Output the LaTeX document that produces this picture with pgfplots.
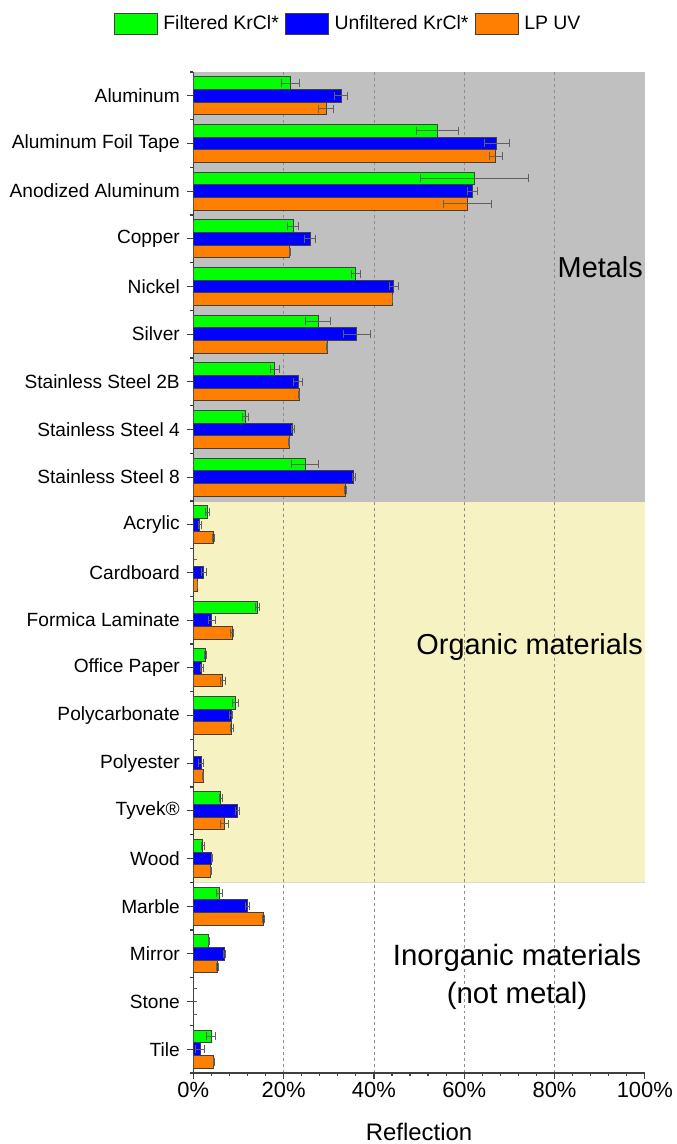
\documentclass[border=0pt]{standalone}
\usepackage{fontspec}
\setmainfont{Liberation Sans}
\usepackage{pgfplots}
\usepackage{pgfplotstable}
\pgfplotsset{compat=1.18}
\usetikzlibrary{calc}
\definecolor{cgreen}{HTML}{00FF00}
\definecolor{cblue}{HTML}{0000FF}
\definecolor{corange}{HTML}{FF8000}
\definecolor{cgray}{HTML}{C0C0C0}
\definecolor{cyellow}{HTML}{F6F2C2}
\definecolor{edge}{HTML}{404040}
\definecolor{errc}{HTML}{606060}

\pgfplotstableread{
y G Ge B Be O Oe
0 21.5 2.0 32.7 1.4 29.4 1.6
1 54.1 4.6 67.2 2.8 67.0 1.5
2 62.2 12.0 61.8 1.1 60.8 5.3
3 22.1 1.2 25.9 1.2 21.3 0.1
4 36.0 1.0 44.4 1.0 44.1 0.1
5 27.6 2.8 36.2 3.0 29.6 0.2
6 18.0 1.0 23.2 1.0 23.4 0.1
7 11.5 0.6 22.0 0.3 21.2 0.1
8 24.8 3.0 35.5 0.3 33.7 0.2
9 3.1 0.4 1.4 0.3 4.4 0.2
10 0 0 2.3 0.5 0.9 0.1
11 14.2 0.5 4.1 0.8 8.6 0.3
12 2.7 0.3 1.9 0.4 6.5 0.55
13 9.3 0.6 8.4 0.3 8.5 0.3
14 0 0 1.7 0.6 2.2 0.1
15 6.1 0.3 9.8 0.4 6.9 0.9
16 2.1 0.3 4.1 0.1 3.8 0.1
17 5.8 0.65 12.0 0.4 15.5 0.2
18 3.4 0.1 6.9 0.3 5.3 0.2
19 0 0 0 0 0 0
20 3.9 1.0 1.5 1.0 4.5 0.1
}\data

\begin{document}
\begin{tikzpicture}
\begin{axis}[
  name=ax, set layers,
  scale only axis, width=451.5bp, height=1001bp,
  xbar, bar width=12.7bp,
  xmin=0, xmax=100, ymin=-0.5, ymax=20.5, y dir=reverse,
  axis lines*=left,
  axis line style={line width=1.3bp, draw=edge, -},
  xtick={0,20,...,100},
  xticklabels={0\%,20\%,40\%,60\%,80\%,100\%},
  minor x tick num=4,
  extra x ticks={20,40,60,80},
  extra x tick labels={},
  extra x tick style={grid=major, major tick length=0pt},
  major grid style={dashed, line width=0.6bp, draw=black!45},
  ytick={0,...,20},
  yticklabels={Aluminum, Aluminum Foil Tape, Anodized Aluminum, Copper, Nickel, Silver, Stainless Steel 2B, Stainless Steel 4, Stainless Steel 8, Acrylic, Cardboard, Formica Laminate, Office Paper, Polycarbonate, Polyester, Tyvek®, Wood, Marble, Mirror, Stone, Tile},
  minor ytick={-0.5,0.5,...,20.5},
  tick align=outside,
  major tick length=6bp, minor tick length=3.5bp,
  tick style={line width=1.2bp, draw=edge},
  yticklabel style={font=\fontsize{19.2}{22}\selectfont, xshift=-4bp},
  xticklabel style={font=\fontsize{22}{26}\selectfont},
  xlabel={Reflection},
  xlabel style={at={(axis description cs:0.5,0)}, anchor=center, yshift=-59bp, font=\fontsize{24}{28}\selectfont},
  legend columns=3,
  legend style={at={(axis description cs:0.3426,1)}, anchor=center, yshift=48.5bp, draw=none, fill=none,
    font=\fontsize{19.5}{23}\selectfont,
    /tikz/every even column/.append style={column sep=4bp},
    /tikz/every odd column/.append style={column sep=4bp}},
  legend image code/.code={\draw[#1] (0bp,-10.5bp) rectangle (43bp,10.5bp);},
  every axis plot/.append style={draw=edge, line width=0.8bp},
  error bars/x dir=both, error bars/x explicit,
  error bars/error bar style={line width=0.8bp, draw=errc},
  error bars/error mark options={rotate=90, line width=0.8bp, draw=errc, mark size=4bp},
]
\begin{pgfonlayer}{axis background}
  \fill[cgray] (axis cs:0,-0.5) rectangle (axis cs:100,8.5);
  \fill[cyellow] (axis cs:0,8.5) rectangle (axis cs:100,16.5);
  \draw[black!25, line width=0.8bp] (axis cs:0,8.5) -- (axis cs:100,8.5);
  \draw[black!15, line width=0.8bp] (axis cs:0,16.5) -- (axis cs:100,16.5);
\end{pgfonlayer}
\addplot[fill=cgreen, bar shift=12.7bp] table[x=G, y=y, x error=Ge] {\data};
\addplot[fill=cblue, bar shift=0bp] table[x=B, y=y, x error=Be] {\data};
\addplot[fill=corange, bar shift=-12.7bp] table[x=O, y=y, x error=Oe] {\data};
\legend{Filtered KrCl*, Unfiltered KrCl*, LP UV}
\node[anchor=east, inner sep=0pt, font=\fontsize{29}{34}\selectfont] at (axis cs:99.6,3.59) {Metals};
\node[anchor=east, inner sep=0pt, font=\fontsize{29}{34}\selectfont] at (axis cs:99.6,11.57) {Organic materials};
\node[align=center, inner sep=0pt, font=\fontsize{29.5}{38}\selectfont] at (axis cs:71.7,18.49) {Inorganic materials\\(not metal)};
\end{axis}
\pgfresetboundingbox
\path ($(ax.south west)+(-193.3bp,-71bp)$) rectangle ($(ax.north east)+(31.2bp,72bp)$);
\end{tikzpicture}
\end{document}
